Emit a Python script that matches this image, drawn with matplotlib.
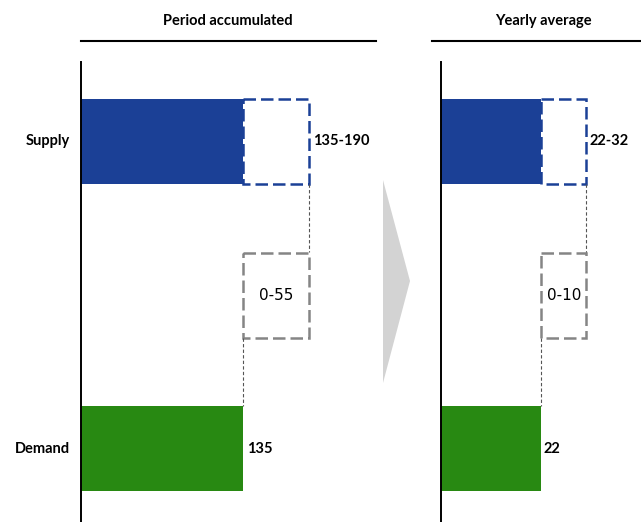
import matplotlib.pyplot as plt
from matplotlib.patches import Polygon
from matplotlib.lines import Line2D

# values per panel
panels = ["Period accumulated", "Yearly average"]
categories = ["Supply", "", "Demand"]
supply_low = [135, 22]
supply_high = [190, 32]
demand = [135, 22]
xmax = [245.8, 44.0]

BLUE = "#1B4096"
GREEN = "#288912"
GREY = "#858585"
BOLD = "Lato"
DASH = (0, (5, 2))

fig = plt.figure(figsize=(6.41, 5.22), dpi=100)
W, H = 641, 522


def fx(px):
    return px / W


def fy(py):
    return 1 - py / H


axes_px = [(81, 376), (441, 641)]
bar_h = 85 / 154

for i, name in enumerate(panels):
    x0, x1 = axes_px[i]
    ax = fig.add_axes([fx(x0), 0, fx(x1) - fx(x0), fy(62)])
    ax.set_xlim(0, xmax[i])
    ax.set_ylim((522 - 141) / 154, (62 - 141) / 154)
    for s in ["top", "right", "bottom"]:
        ax.spines[s].set_visible(False)
    ax.spines["left"].set_linewidth(1.4)
    ax.set_xticks([])
    ax.set_yticks([])

    lo, hi, dm = supply_low[i], supply_high[i], demand[i]
    # supply: solid part and dashed upper range
    ax.barh(0, lo, height=bar_h, color=BLUE)
    ax.barh(0, hi - lo, left=lo, height=bar_h, fill=False, edgecolor=BLUE,
            linewidth=1.8, linestyle=DASH)
    # gap between demand and upper supply
    ax.barh(1, hi - dm, left=dm, height=bar_h, fill=False, edgecolor=GREY,
            linewidth=1.8, linestyle=DASH)
    # demand
    ax.barh(2, dm, height=bar_h, color=GREEN)

    # thin connectors
    ax.plot([hi, hi], [bar_h / 2, 1 - bar_h / 2], color="#555555",
            lw=0.8, ls=(0, (3, 2)))
    ax.plot([dm, dm], [1 + bar_h / 2, 2 - bar_h / 2], color="#555555",
            lw=0.8, ls=(0, (3, 2)))

    pad = xmax[i] * 0.015
    ax.text(hi + pad, 0, f"{lo}-{hi}", va="center", ha="left",
            fontsize=10.5, fontweight="bold", family=BOLD)
    ax.text((dm + hi) / 2, 1, f"0-{hi - dm}", va="center", ha="center",
            fontsize=11, family="DejaVu Sans")
    ax.text(dm + pad, 2, f"{dm}", va="center", ha="left",
            fontsize=10.5, fontweight="bold", family=BOLD)

    if i == 0:
        for y, c in enumerate(categories):
            if c:
                ax.text(-11 * xmax[i] / 295, y, c, va="center", ha="right",
                        fontsize=10.5, fontweight="bold", family=BOLD)

# panel titles with underline
titles_px = [(228, 81, 376), (543, 432, 641)]
for name, (cx, lx0, lx1) in zip(panels, titles_px):
    fig.text(fx(cx), fy(21), name, ha="center", va="center",
             fontsize=10.5, fontweight="bold", family=BOLD)
    fig.add_artist(Line2D([fx(lx0), fx(lx1)], [fy(41), fy(41)],
                          color="black", lw=1.5, transform=fig.transFigure))

# arrow between panels
fig.add_artist(Polygon([(fx(383), fy(180)), (fx(383), fy(383)), (fx(410), fy(281))],
                       closed=True, facecolor="#D3D3D3", edgecolor="none",
                       transform=fig.transFigure))

fig.savefig("out.png", dpi=100)
